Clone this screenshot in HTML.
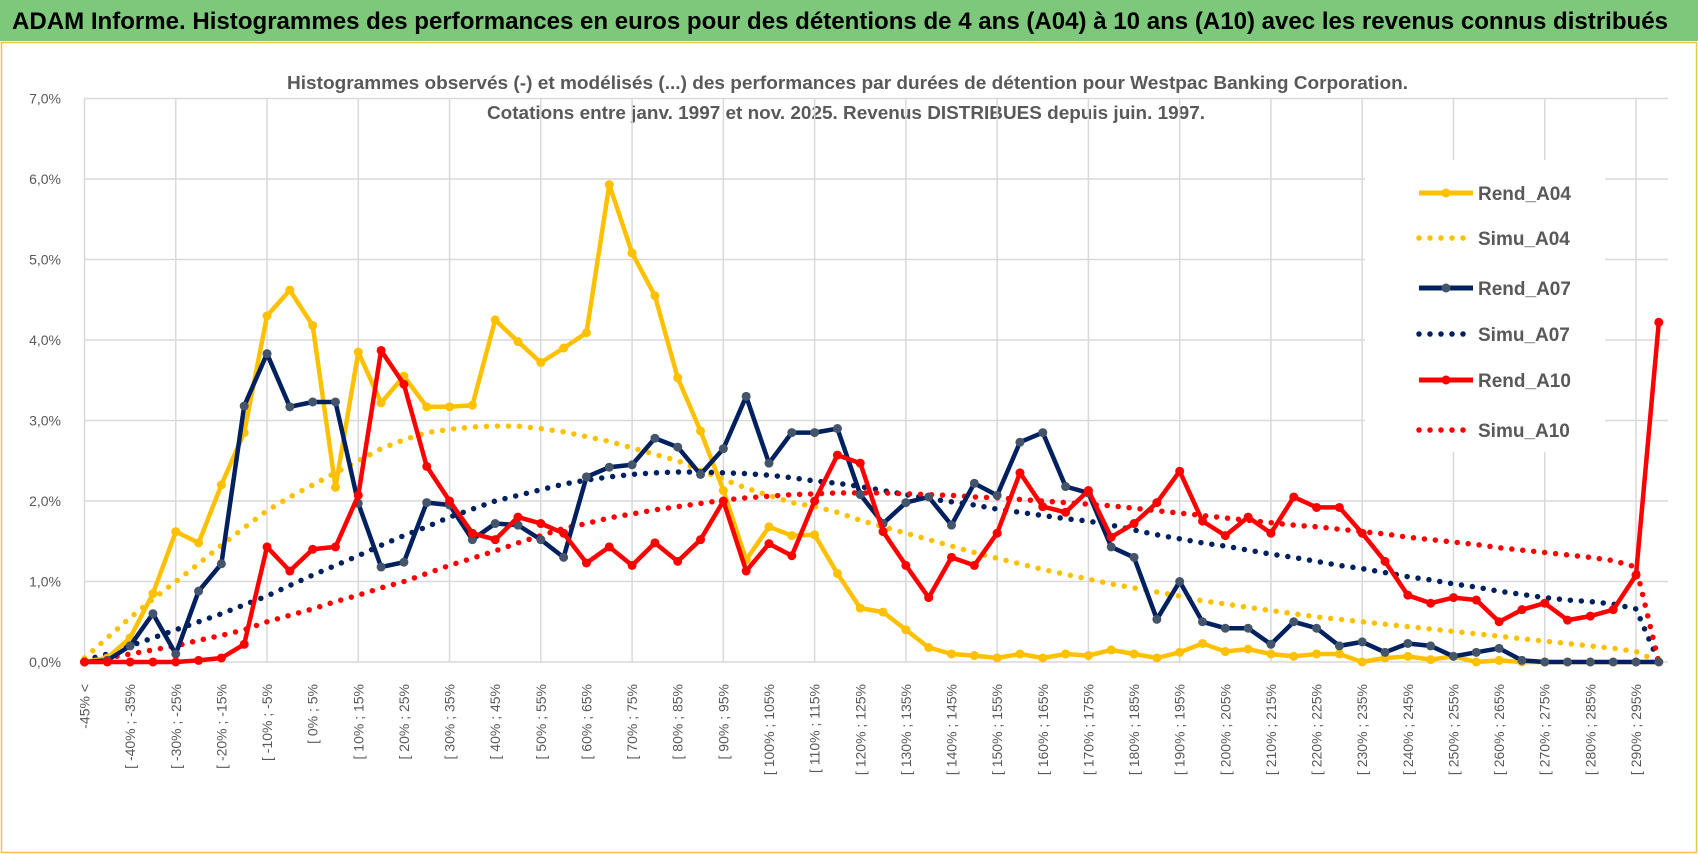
<!DOCTYPE html>
<html><head><meta charset="utf-8"><style>
html,body{margin:0;padding:0;background:#fff;}
svg{display:block;font-family:"Liberation Sans",sans-serif;}
</style></head><body>
<svg id="chart" width="1698" height="854" viewBox="0 0 1698 854" xmlns="http://www.w3.org/2000/svg">
<rect x="0" y="0" width="1698" height="41" fill="#7dc87a"/>
<text x="12" y="29" font-size="24" font-weight="bold" fill="#000" textLength="1656" lengthAdjust="spacingAndGlyphs">ADAM Informe. Histogrammes des performances en euros pour des détentions de 4 ans (A04) à 10 ans (A10) avec les revenus connus distribués</text>
<rect x="1.5" y="42.5" width="1695" height="810" fill="none" stroke="#f2c443" stroke-width="1.5"/>
<text x="287" y="89" font-size="18" font-weight="bold" fill="#595959" textLength="1121" lengthAdjust="spacingAndGlyphs">Histogrammes observés (-) et modélisés (...) des performances par durées de détention pour Westpac Banking Corporation.</text>
<text x="487" y="119" font-size="18" font-weight="bold" fill="#595959" textLength="718" lengthAdjust="spacingAndGlyphs">Cotations entre janv. 1997 et nov. 2025. Revenus DISTRIBUES depuis juin. 1997.</text>
<g id="grid"></g>
<g id="yaxis"></g>
<g id="xaxis"></g>
<rect x="1365" y="160" width="240" height="292" fill="#fff"/>
<g id="series"></g>
<g id="legend"></g>
</svg>
<script>
const yTicks = [0,1,2,3,4,5,6,7];
const yTickLabels = ["0,0%","1,0%","2,0%","3,0%","4,0%","5,0%","6,0%","7,0%"];
const categoryStarts = [];
for (let a = -45; a <= 295; a += 5) categoryStarts.push(a);
const rendA04 = [0,0.05,0.3,0.85,1.62,1.48,2.2,2.85,4.3,4.62,4.18,2.17,3.85,3.22,3.55,3.17,3.17,3.19,4.25,3.98,3.72,3.9,4.09,5.93,5.08,4.55,3.53,2.87,2.13,1.27,1.68,1.57,1.58,1.1,0.67,0.62,0.4,0.18,0.1,0.08,0.05,0.1,0.05,0.1,0.08,0.15,0.1,0.05,0.12,0.23,0.13,0.16,0.1,0.07,0.1,0.1,0,0.05,0.07,0.03,0.07,0,0.02,0,0,0,0,0,0,0];
const simuA04 = [0.05,0.3,0.55,0.78,1.0,1.22,1.45,1.67,1.88,2.05,2.2,2.35,2.5,2.65,2.76,2.85,2.89,2.92,2.93,2.93,2.9,2.86,2.8,2.74,2.66,2.58,2.5,2.38,2.27,2.16,2.07,1.98,1.93,1.86,1.76,1.68,1.6,1.52,1.44,1.36,1.29,1.22,1.15,1.09,1.03,0.97,0.92,0.87,0.82,0.76,0.72,0.68,0.64,0.6,0.56,0.53,0.5,0.47,0.44,0.41,0.38,0.35,0.32,0.29,0.26,0.23,0.2,0.17,0.13,0];
const rendA07 = [0,0.02,0.2,0.6,0.1,0.88,1.22,3.18,3.83,3.17,3.23,3.23,1.97,1.18,1.24,1.98,1.95,1.52,1.72,1.7,1.52,1.3,2.3,2.42,2.45,2.78,2.67,2.33,2.65,3.3,2.47,2.85,2.85,2.9,2.08,1.72,1.98,2.05,1.7,2.22,2.07,2.73,2.85,2.18,2.1,1.43,1.3,0.53,1.0,0.5,0.42,0.42,0.22,0.5,0.42,0.2,0.25,0.12,0.23,0.2,0.07,0.12,0.17,0.02,0,0,0,0,0,0];
const simuA07 = [0.02,0.1,0.2,0.3,0.4,0.5,0.6,0.71,0.82,0.95,1.08,1.2,1.32,1.45,1.57,1.68,1.8,1.9,2.0,2.07,2.14,2.21,2.26,2.3,2.33,2.35,2.36,2.36,2.35,2.34,2.32,2.29,2.25,2.22,2.18,2.13,2.08,2.03,1.99,1.95,1.9,1.86,1.82,1.78,1.75,1.7,1.64,1.58,1.53,1.48,1.44,1.39,1.34,1.3,1.25,1.2,1.16,1.11,1.06,1.02,0.97,0.93,0.88,0.84,0.8,0.77,0.75,0.72,0.66,0];
const rendA10 = [0,0,0,0,0,0.02,0.05,0.22,1.43,1.13,1.4,1.43,2.07,3.87,3.45,2.43,2.0,1.6,1.52,1.8,1.72,1.6,1.23,1.43,1.2,1.48,1.25,1.52,2.0,1.13,1.47,1.32,2.0,2.57,2.47,1.62,1.2,0.8,1.3,1.2,1.6,2.35,1.93,1.86,2.13,1.55,1.72,1.98,2.37,1.75,1.57,1.8,1.6,2.05,1.92,1.92,1.6,1.25,0.83,0.73,0.8,0.77,0.5,0.65,0.73,0.52,0.57,0.65,1.08,4.22];
const simuA10 = [0,0.05,0.1,0.15,0.2,0.27,0.33,0.4,0.5,0.58,0.66,0.75,0.83,0.92,1.0,1.1,1.2,1.29,1.38,1.48,1.57,1.66,1.72,1.79,1.84,1.89,1.93,1.97,2.01,2.04,2.06,2.08,2.09,2.1,2.1,2.1,2.09,2.08,2.07,2.05,2.04,2.02,2.0,1.98,1.96,1.94,1.91,1.88,1.85,1.82,1.79,1.76,1.73,1.7,1.68,1.65,1.62,1.59,1.55,1.52,1.49,1.46,1.42,1.39,1.36,1.33,1.3,1.26,1.18,0];
const seriesNames = ["Rend_A04","Simu_A04","Rend_A07","Simu_A07","Rend_A10","Simu_A10"];

const NS = "http://www.w3.org/2000/svg";
const X0 = 84.5, X1 = 1636, Y0 = 662, YPER = 80.5;
const n = categoryStarts.length;
function xAt(i){ return X0 + i * (X1 - X0) / (n - 1); }
function yAt(v){ return Y0 - v * YPER; }
function mk(tag, attrs, parent){ const e = document.createElementNS(NS, tag); for (const k in attrs) e.setAttribute(k, attrs[k]); parent.appendChild(e); return e; }
function catLabel(i){ if (i === 0) return "-45% <"; const a = categoryStarts[i-1]; const b = a + 5; return "[ " + a + "% ; " + b + "%"; }

const grid = document.getElementById("grid");
yTicks.forEach(function(t){
  const l = mk("line", {x1: X0, x2: 1668, y1: yAt(t), y2: yAt(t), stroke: "#d9d9d9", "stroke-width": 1.5}, grid);
  
  
});
for (let i = 0; i < n; i += 4) {
  const l = mk("line", {x1: xAt(i), x2: xAt(i), y1: yAt(7), y2: Y0, stroke: "#d9d9d9", "stroke-width": 1.5}, grid);
  
  
}
const yaxis = document.getElementById("yaxis");
yTicks.forEach(function(t, k){
  const tx = mk("text", {x: 61, y: yAt(t) + 5, "text-anchor": "end", "font-size": 14, fill: "#595959"}, yaxis);
  tx.textContent = yTickLabels[k];
  
  
});
const xaxis = document.getElementById("xaxis");
for (let i = 0; i < n; i += 2) {
  const tx = mk("text", {x: 0, y: 0, "text-anchor": "end", "font-size": 14, fill: "#595959", transform: "translate(" + (xAt(i) + 5) + ",684) rotate(-90)"}, xaxis);
  tx.textContent = catLabel(i);
  
  
}

const series = document.getElementById("series");
function drawDotted(vals, color, name){
  const d = vals.map(function(v, i){ return (i ? "L" : "M") + xAt(i).toFixed(1) + "," + yAt(v).toFixed(1); }).join("");
  const p = mk("path", {d: d, fill: "none", stroke: color, "stroke-width": 5.5, "stroke-linecap": "round", "stroke-dasharray": "0 11"}, series);
  
  
}
function drawSolid(vals, color, marker, name){
  const d = vals.map(function(v, i){ return (i ? "L" : "M") + xAt(i).toFixed(1) + "," + yAt(v).toFixed(1); }).join("");
  const p = mk("path", {d: d, fill: "none", stroke: color, "stroke-width": 4.5, "stroke-linejoin": "round"}, series);
  
  
  vals.forEach(function(v, i){
    const c = mk("circle", {cx: xAt(i), cy: yAt(v), r: 4.5, fill: marker}, series);
    
    
  });
}
drawDotted(simuA04, "#ffc000", "simu-a04-line");
drawDotted(simuA07, "#002060", "simu-a07-line");
drawDotted(simuA10, "#ff0000", "simu-a10-line");
drawSolid(rendA04, "#ffc000", "#ffc000", "rend-a04-line");
drawSolid(rendA07, "#002060", "#44546a", "rend-a07-line");
drawSolid(rendA10, "#ff0000", "#ff0000", "rend-a10-line");

const legend = document.getElementById("legend");
const legColors = ["#ffc000","#ffc000","#002060","#002060","#ff0000","#ff0000"];
const legY = [193,238,288,334,380,430];
seriesNames.forEach(function(nm, k){
  const g = mk("g", {}, legend);
  
  
  if (k % 2 === 0) {
    mk("line", {x1: 1419, x2: 1473, y1: legY[k], y2: legY[k], stroke: legColors[k], "stroke-width": 5}, g);
    mk("circle", {cx: 1446, cy: legY[k], r: 4.5, fill: k === 2 ? "#44546a" : legColors[k]}, g);
  } else {
    mk("line", {x1: 1419, x2: 1473, y1: legY[k], y2: legY[k], stroke: legColors[k], "stroke-width": 5.5, "stroke-linecap": "round", "stroke-dasharray": "0 11"}, g);
  }
  const t = mk("text", {x: 1478, y: legY[k] + 7, "font-size": 19, "font-weight": "bold", fill: "#595959"}, g);
  t.textContent = nm;
});
</script>
</body></html>
